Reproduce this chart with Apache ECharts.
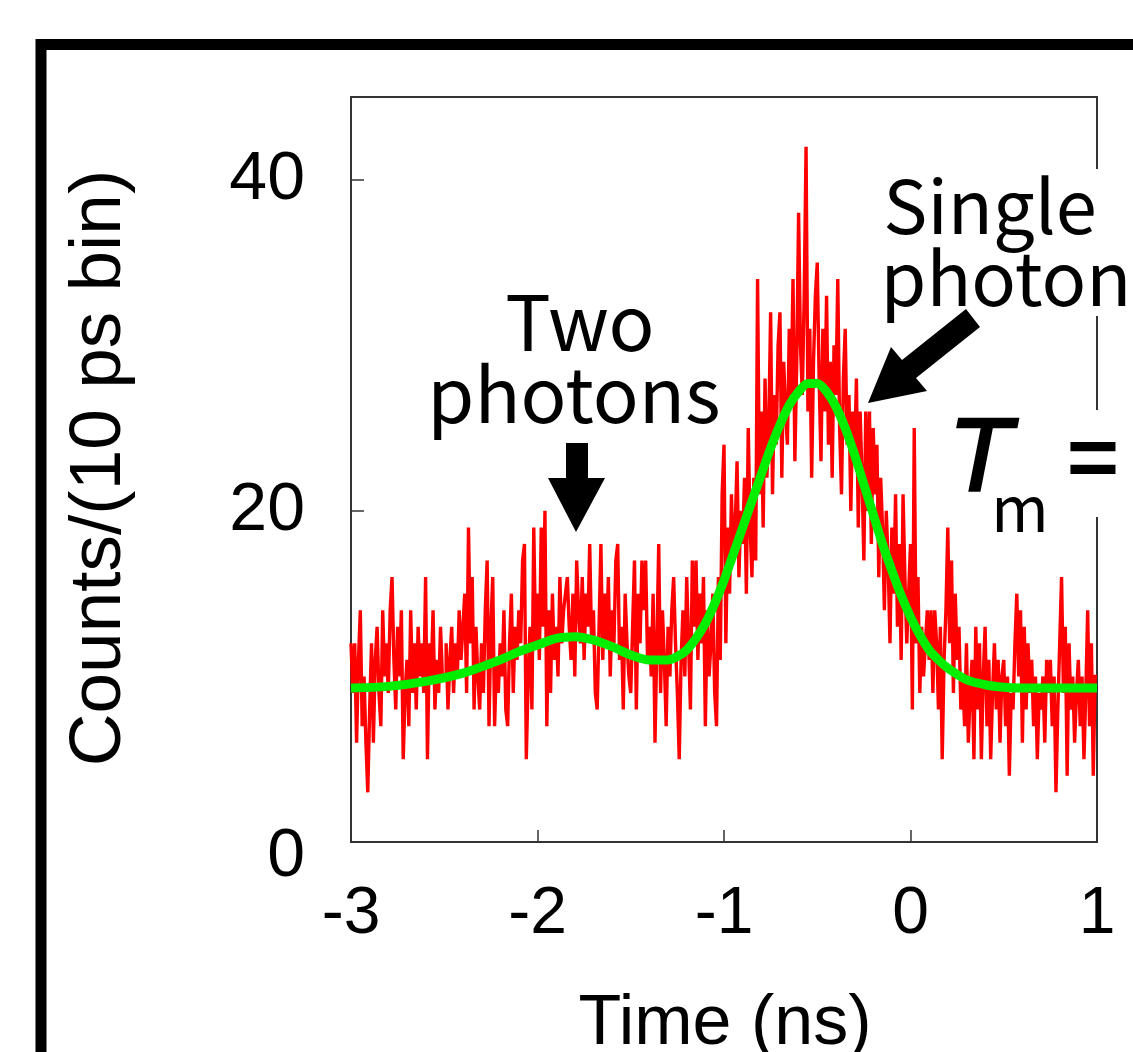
<!DOCTYPE html>
<html>
<head>
<meta charset="utf-8">
<script src="https://cdn.jsdelivr.net/npm/echarts@6/dist/echarts.min.js"></script>
<style>
html,body{margin:0;padding:0;background:#fff;}
#chart{width:1133px;height:1052px;}
</style>
</head>
<body>
<div id="chart"></div>
<script>
// ---- data ----
const binStart = -3.0;   // ns, left edge of first bin
const binWidth = 0.01;   // ns (10 ps bins)
const counts = [
  12, 9, 12, 6, 11, 14, 7, 10, 6, 3,
  8, 12, 6, 11, 13, 9, 7, 14, 10, 12,
  9, 14, 16, 11, 8, 13, 10, 14, 5, 9,
  11, 7, 14, 9, 12, 8, 13, 10, 12, 9,
  16, 5, 12, 10, 14, 8, 11, 9, 13, 10,
  10, 12, 8, 11, 13, 9, 12, 10, 14, 11,
  13, 15, 9, 19, 12, 16, 8, 13, 10, 8,
  12, 9, 14, 17, 7, 13, 16, 7, 11, 9,
  12, 10, 14, 8, 7, 12, 15, 9, 13, 11,
  14, 12, 17, 18, 5, 10, 13, 8, 19, 12,
  15, 11, 19, 13, 20, 7, 14, 9, 15, 11,
  13, 10, 16, 12, 14, 15, 16, 13, 11, 15,
  10, 17, 14, 12, 16, 11, 15, 13, 18, 12,
  14, 9, 8, 13, 18, 11, 15, 12, 16, 10,
  14, 12, 17, 18, 11, 13, 8, 15, 12, 10,
  9, 13, 17, 8, 15, 12, 17, 14, 17, 11,
  13, 10, 15, 6, 12, 18, 9, 14, 11, 7,
  13, 10, 14, 16, 12, 9, 5, 11, 14, 10,
  16, 12, 8, 17, 13, 17, 11, 15, 12, 16,
  7, 14, 10, 12, 15, 9, 7, 16, 11, 21,
  24, 12, 19, 15, 21, 17, 19, 23, 16, 20,
  18, 22, 15, 25, 19, 16, 22, 17, 34, 21,
  26, 19, 28, 22, 25, 32, 21, 27, 24, 30,
  32, 22, 29, 26, 24, 31, 27, 34, 23, 29,
  38, 30, 27, 33, 42, 26, 31, 22, 29, 33,
  35, 28, 23, 31, 26, 33, 24, 29, 22, 30,
  27, 34, 25, 21, 28, 31, 24, 27, 20, 26,
  23, 28, 19, 26, 22, 17, 26, 20, 26, 18,
  25, 21, 24, 16, 22, 19, 14, 20, 17, 12,
  19, 15, 21, 13, 18, 11, 21, 16, 12, 15,
  18, 8, 25, 12, 16, 9, 13, 10, 12, 14,
  11, 14, 9, 14, 12, 8, 13, 5, 11, 14,
  19, 12, 17, 9, 15, 11, 13, 8, 10, 7,
  12, 6, 9, 11, 5, 13, 8, 12, 5, 10,
  13, 7, 11, 5, 9, 12, 8, 11, 6, 10,
  11, 7, 10, 4, 9, 8, 12, 15, 10, 14,
  6, 13, 8, 12, 9, 11, 7, 10, 5, 9,
  8, 10, 6, 11, 9, 11, 7, 10, 3, 8,
  12, 16, 9, 13, 4, 12, 8, 10, 6, 9,
  11, 7, 10, 5, 9, 14, 7, 12, 4, 10
];
const fitTime   = [-3.0, -2.8, -2.6, -2.4, -2.2, -2.1, -2.0, -1.9, -1.8, -1.7, -1.6, -1.5, -1.4, -1.3, -1.25, -1.2, -1.15, -1.1, -1.05, -1.0, -0.95, -0.9, -0.85, -0.8, -0.75, -0.7, -0.65, -0.6, -0.55, -0.5, -0.45, -0.4, -0.35, -0.3, -0.25, -0.2, -0.15, -0.1, -0.05, 0.0, 0.05, 0.1, 0.15, 0.2, 0.3, 0.4, 0.5, 0.6, 0.8, 1.0];
const fitCounts = [9.3, 9.4, 9.7, 10.2, 11.0, 11.5, 11.9, 12.3, 12.4, 12.2, 11.8, 11.3, 11.0, 11.0, 11.2, 11.6, 12.3, 13.2, 14.4, 15.8, 17.4, 19.0, 20.6, 22.2, 23.8, 25.2, 26.4, 27.2, 27.7, 27.7, 27.2, 26.3, 25.0, 23.4, 21.6, 19.8, 18.0, 16.4, 14.9, 13.6, 12.5, 11.6, 11.0, 10.5, 9.8, 9.5, 9.35, 9.3, 9.3, 9.3];
const xRange = [-3, 1];
const yRange = [0, 45];
const xTickStep = 1;
const yTickStep = 20;
const xTitle = 'Time (ns)';
const yTitle = 'Counts/(10 ps bin)';

// ---- build series data ----
const histData = counts.map((c, i) => [binStart + i * binWidth, c]);
histData.push([binStart + counts.length * binWidth, counts[counts.length - 1]]);
const fitData = fitTime.map((t, i) => [t, fitCounts[i]]);

const chart = echarts.init(document.getElementById('chart'), null, {renderer: 'canvas'});
const AX = '#333';
const LAT = '"Liberation Sans", Arial, sans-serif';
const JP = '"Noto Sans CJK JP", sans-serif';
const T = (text, x, y, font, extra, styleExtra) => Object.assign({type: 'text', z: 100, x: x, y: y,
  style: Object.assign({text: text, font: font, fill: '#000', align: 'center', verticalAlign: 'middle', textAlign: 'center', textVerticalAlign: 'middle'}, styleExtra || {})}, extra || {});

chart.setOption({
  animation: false,
  backgroundColor: '#fff',
  grid: {left: 351, top: 97, width: 746, height: 745, show: true, borderColor: AX, borderWidth: 2, backgroundColor: 'transparent'},
  xAxis: {
    type: 'value', min: xRange[0], max: xRange[1], interval: xTickStep,
    axisLine: {show: true, onZero: false, lineStyle: {color: AX, width: 2}},
    axisTick: {show: true, inside: true, length: 12, lineStyle: {color: AX, width: 1.5}},
    axisLabel: {color: '#000', fontFamily: LAT, fontSize: 66, margin: 40},
    splitLine: {show: false}
  },
  yAxis: {
    type: 'value', min: yRange[0], max: yRange[1], interval: yTickStep,
    axisLine: {show: true, onZero: false, lineStyle: {color: AX, width: 2}},
    axisTick: {show: true, inside: true, length: 13, lineStyle: {color: AX, width: 1.5}},
    axisLabel: {color: '#000', fontFamily: LAT, fontSize: 68, margin: 46, showMaxLabel: false,
      formatter: v => (v === yRange[0] ? '{low|' + v + '}' : (v % yTickStep === 0 ? String(v) : '')),
      rich: {low: {fontFamily: LAT, fontSize: 68, color: '#000', padding: [30, 0, 0, 0]}}},
    splitLine: {show: false}
  },
  series: [
    {type: 'line', data: histData, step: 'end', showSymbol: false, symbol: 'none',
      lineStyle: {color: '#ff0000', width: 3.4, join: 'miter', cap: 'butt'}, z: 2, silent: true},
    {type: 'line', data: fitData, smooth: 0.3, showSymbol: false, symbol: 'none',
      lineStyle: {color: '#00ee00', width: 9}, z: 3, silent: true}
  ],
  graphic: [
    {type: 'rect', z: 100, shape: {x: 41, y: 44.5, width: 1200, height: 1100},
      style: {fill: 'none', stroke: '#000', lineWidth: 11}},
    T(xTitle, 725, 1025, '70px ' + LAT),
    T(yTitle, 100, 468, '73px ' + LAT, {rotation: Math.PI / 2}),
    {type: 'rect', z: 90, shape: {x: 880, y: 169, width: 260, height: 147}, style: {fill: '#fff'}},
    {type: 'rect', z: 90, shape: {x: 930, y: 410, width: 210, height: 107}, style: {fill: '#fff'}},
    T('Two', 580, 322, '76px ' + JP),
    T('photons', 574, 394, '76px ' + JP),
    {type: 'polygon', z: 100, shape: {points: [[566, 443], [588, 443], [588, 478], [605, 478], [576, 532], [548, 478], [566, 478]]},
      style: {fill: '#000'}},
    T('Single', 990, 206, '74px ' + JP),
    T('photon', 1006, 278, '74px ' + JP),
    {type: 'polygon', z: 100, shape: {points: [[966, 309], [902, 360], [891, 347], [868, 403], [927, 391], [916, 378], [980, 327]]},
      style: {fill: '#000'}},
    T('T', 980, 462, 'italic 104px ' + LAT, null, {stroke: '#000', lineWidth: 2.5}),
    T('m', 1020, 508, '62px ' + JP),
    T('=', 1093, 458, 'bold 88px ' + JP)
  ]
});
</script>
</body>
</html>
